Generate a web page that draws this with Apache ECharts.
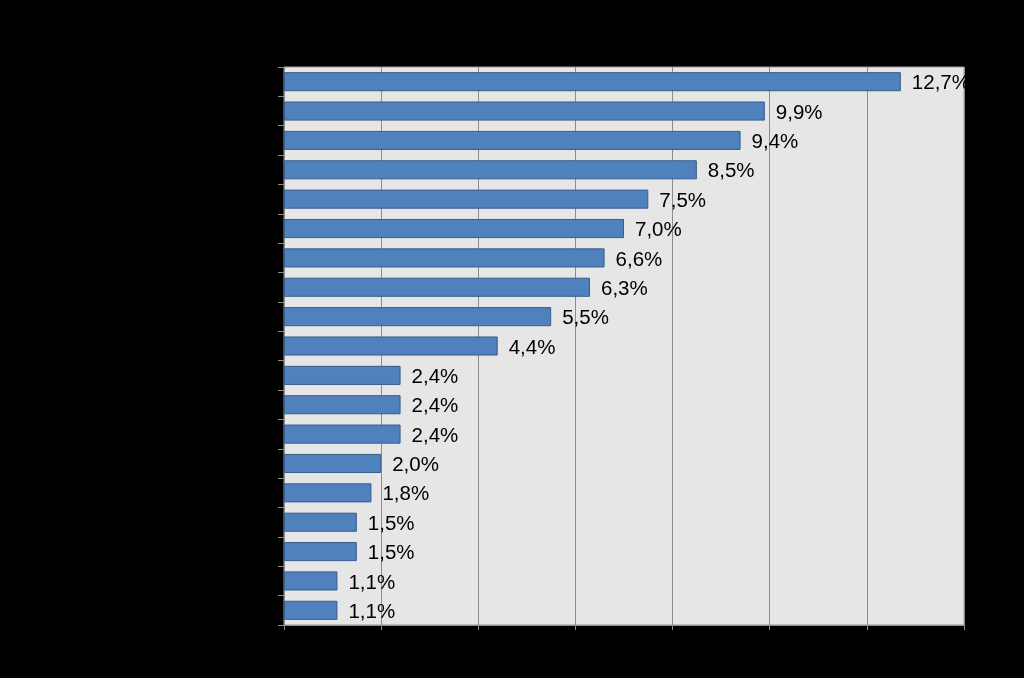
<!DOCTYPE html>
<html>
<head>
<meta charset="utf-8">
<script src="https://cdn.jsdelivr.net/npm/echarts@6/dist/echarts.min.js"></script>
<style>
html,body{margin:0;padding:0;background:#000;}
#c{width:1024px;height:678px;}
</style>
</head>
<body>
<div id="c"></div>
<script>
const categories = ["A","B","C","D","E","F","G","H","I","J","K","L","M","N","O","P","Q","R","S"];
const values = [12.7, 9.9, 9.4, 8.5, 7.5, 7.0, 6.6, 6.3, 5.5, 4.4, 2.4, 2.4, 2.4, 2.0, 1.8, 1.5, 1.5, 1.1, 1.1];
const xTicks = [0, 2, 4, 6, 8, 10, 12, 14];

const chart = echarts.init(document.getElementById('c'), null, {renderer: 'canvas'});
chart.setOption({
  backgroundColor: '#000000',
  animation: false,
  grid: {
    left: 284, right: 60, top: 67, bottom: 53,
    show: true, backgroundColor: '#e6e6e6', borderColor: '#9a9a9a', borderWidth: 1
  },
  xAxis: {
    type: 'value',
    min: xTicks[0], max: xTicks[xTicks.length - 1], interval: 2,
    axisLine: {show: true, lineStyle: {color: '#8c8c8c', width: 1}},
    axisTick: {show: true, length: 5, lineStyle: {color: '#8c8c8c'}},
    splitLine: {show: true, lineStyle: {color: '#8c8c8c', width: 1}},
    axisLabel: {color: '#000000', formatter: v => v + '%', fontFamily: 'Liberation Sans', fontSize: 14}
  },
  yAxis: {
    type: 'category',
    data: categories,
    inverse: true,
    axisLine: {show: true, lineStyle: {color: '#8c8c8c'}},
    axisTick: {show: true, length: 6, alignWithLabel: false, lineStyle: {color: '#8c8c8c'}},
    axisLabel: {color: '#000000', fontFamily: 'Liberation Sans', fontSize: 14}
  },
  series: [{
    type: 'bar',
    data: values,
    barWidth: '65%',
    itemStyle: {color: '#4f81bd', borderColor: '#385d8a', borderWidth: 1},
    label: {
      show: true, position: 'right', distance: 11, offset: [0, 2],
      color: '#000000', fontFamily: 'Liberation Sans', fontSize: 20.5,
      formatter: p => p.value.toFixed(1).replace('.', ',') + '%'
    }
  }]
});
</script>
</body>
</html>
